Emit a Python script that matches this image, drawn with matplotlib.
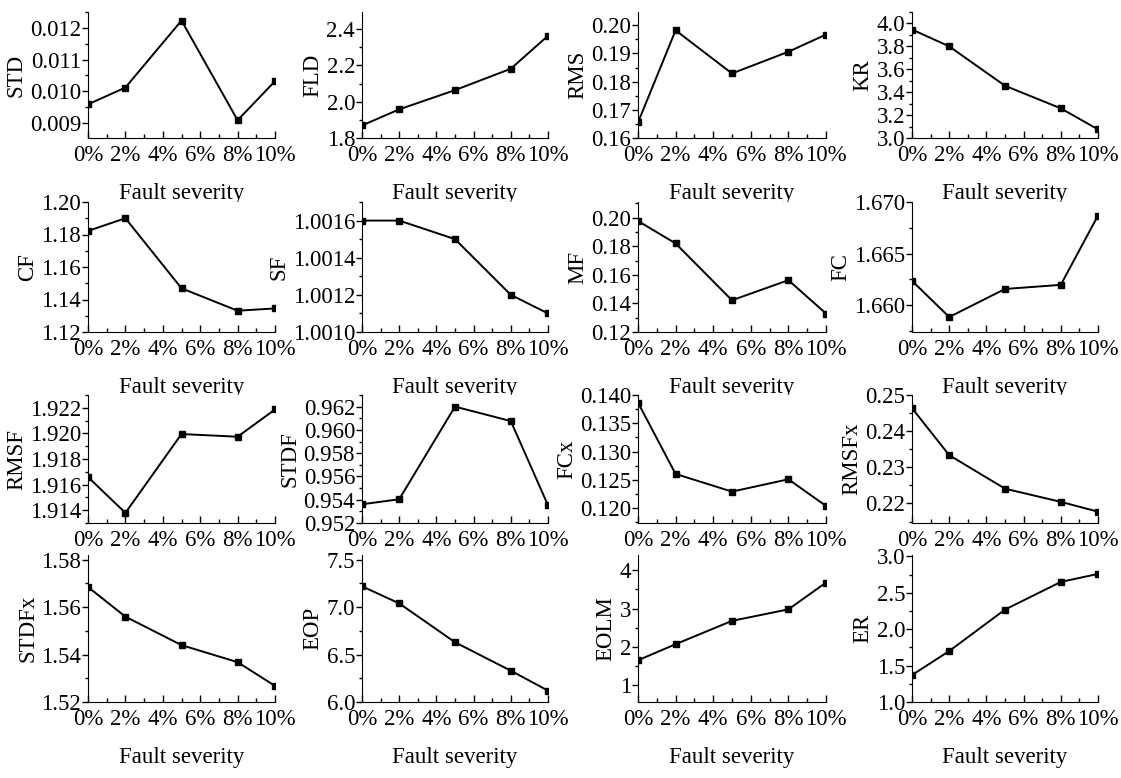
import matplotlib
matplotlib.use("Agg")
import matplotlib.pyplot as plt
from matplotlib.ticker import MultipleLocator, AutoMinorLocator, FormatStrFormatter, FuncFormatter

plt.rcParams['font.family'] = ['Liberation Serif', 'DejaVu Serif']
plt.rcParams['font.size'] = 16.5

# fault severity, %
severity = [0, 2, 5, 8, 10]
x_ticks = [0, 2, 4, 6, 8, 10]

# feature values
std = [0.00959, 0.01012, 0.01223, 0.00909, 0.01032]
fld = [1.869, 1.958, 2.064, 2.182, 2.364]
rms = [0.1655, 0.1982, 0.1829, 0.1906, 0.1967]
kr = [3.947, 3.800, 3.456, 3.259, 3.075]
cf = [1.1822, 1.1900, 1.1469, 1.1331, 1.1345]
sf = [1.00160, 1.00160, 1.00150, 1.00120, 1.00110]
mf = [0.1977, 0.1820, 0.1422, 0.1563, 0.1329]
fc = [1.66236, 1.65885, 1.66157, 1.66197, 1.66869]
rmsf = [1.91659, 1.91379, 1.91995, 1.91974, 1.92187]
stdf = [0.95361, 0.95404, 0.96200, 0.96076, 0.95352]
fcx = [0.13865, 0.12606, 0.12294, 0.12512, 0.12041]
rmsfx = [0.24636, 0.23336, 0.22409, 0.22045, 0.21773]
stdfx = [1.5685, 1.5560, 1.5440, 1.5368, 1.5268]
eop = [7.22, 7.04, 6.63, 6.33, 6.12]
eolm = [1.65, 2.07, 2.68, 2.98, 3.68]
er = [1.37, 1.70, 2.27, 2.65, 2.76]

names = ['STD', 'FLD', 'RMS', 'KR',
         'CF', 'SF', 'MF', 'FC',
         'RMSF', 'STDF', 'FCx', 'RMSFx',
         'STDFx', 'EOP', 'EOLM', 'ER']
series = [std, fld, rms, kr,
          cf, sf, mf, fc,
          rmsf, stdf, fcx, rmsfx,
          stdfx, eop, eolm, er]

# axis setup: (ylim, major step, format)
axis_cfg = [
    ((0.00853, 0.0125), 0.001, '%.3f'),
    ((1.8, 2.495), 0.2, '%.1f'),
    ((0.16, 0.2047), 0.01, '%.2f'),
    ((3.0, 4.1), 0.2, '%.1f'),
    ((1.12, 1.20), 0.02, '%.2f'),
    ((1.0010, 1.0017), 0.0002, '%.4f'),
    ((0.12, 0.211), 0.02, '%.2f'),
    ((1.6574, 1.670), 0.005, '%.3f'),
    ((1.9130, 1.9230), 0.002, '%.3f'),
    ((0.952, 0.963), 0.002, '%.3f'),
    ((0.1174, 0.140), 0.005, '%.3f'),
    ((0.2146, 0.25), 0.01, '%.2f'),
    ((1.52, 1.582), 0.02, '%.2f'),
    ((6.0, 7.55), 0.5, '%.1f'),
    ((0.56, 4.4), 1, '%d'),
    ((1.0, 3.02), 0.5, '%.1f'),
]

W, H = 1121, 778
col_left = [88, 362, 638, 912]
col_right = [275, 548, 826, 1098]
row_top = [12, 202, 395, 555]
row_bottom = [138, 332, 523, 702]

fig = plt.figure(figsize=(W / 100, H / 100), dpi=100)

for i, (name, vals, (ylim, step, fmt)) in enumerate(zip(names, series, axis_cfg)):
    r, c = divmod(i, 4)
    ax = fig.add_axes([col_left[c] / W, 1 - row_bottom[r] / H,
                       (col_right[c] - col_left[c]) / W,
                       (row_bottom[r] - row_top[r]) / H])
    ax.plot(severity, vals, color='black', lw=1.4, marker='s', ms=4)
    ax.set_xlim(0, 10)
    ax.set_ylim(*ylim)
    ax.set_xticks(x_ticks)
    ax.xaxis.set_major_formatter(FuncFormatter(lambda v, p: '%d%%' % v))
    ax.xaxis.set_minor_locator(MultipleLocator(1))
    ax.yaxis.set_major_locator(MultipleLocator(step))
    ax.yaxis.set_major_formatter(FormatStrFormatter(fmt))
    ax.yaxis.set_minor_locator(AutoMinorLocator(2))
    ax.spines['top'].set_visible(False)
    ax.spines['right'].set_visible(False)
    ax.tick_params(axis='x', which='major', direction='in', length=5, width=1, pad=5)
    ax.tick_params(axis='x', which='minor', direction='in', length=3, width=1)
    ax.tick_params(axis='y', which='major', direction='out', length=4, width=1, pad=1)
    ax.tick_params(axis='y', which='minor', direction='out', length=2, width=1)
    ax.set_ylabel(name, labelpad=2)
    ax.set_xlabel('Fault severity', labelpad=12)

fig.savefig('out.png', dpi=100)
